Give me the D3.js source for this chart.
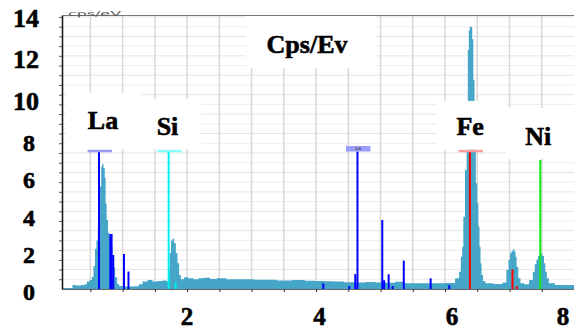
<!DOCTYPE html>
<html><head><meta charset="utf-8">
<script src="https://cdn.jsdelivr.net/npm/d3@7"></script>
<style>html,body{margin:0;padding:0;background:#fff;} svg{display:block;}</style>
</head><body><svg id="c" width="574" height="329"></svg>
<script>
// ---- data ----
const specEnergy = [0.06,0.215,0.23,0.324,0.40,0.432,0.463,0.51,0.536,0.561,0.583,0.605,0.626,0.641,0.66,0.676,0.691,0.716,0.731,0.742,0.762,0.784,0.804,0.831,0.855,0.871,0.897,0.933,0.959,1.114,1.234,1.27,1.347,1.425,1.502,1.58,1.657,1.699,1.719,1.74,1.762,1.786,1.812,1.839,1.863,1.89,1.916,1.993,2.045,2.149,2.2,2.304,2.41,2.51,2.712,2.975,3.1,3.285,3.5,3.75,3.9,4.06,4.2,4.37,4.5,4.68,4.85,4.99,5.15,5.3,5.45,5.611,5.75,5.921,6.107,6.205,6.232,6.258,6.274,6.294,6.325,6.345,6.361,6.376,6.392,6.414,6.429,6.449,6.465,6.491,6.507,6.527,6.543,6.558,6.574,6.605,6.647,6.853,6.93,6.972,6.997,7.018,7.043,7.069,7.085,7.1,7.12,7.151,7.188,7.266,7.343,7.379,7.405,7.43,7.456,7.48,7.498,7.524,7.545,7.565,7.592,7.627,7.782,8.0];
const specCounts = [0.05,0.05,0.2,0.18,0.2,0.25,0.38,0.46,0.62,1.18,2.06,2.5,3.2,3.9,5.27,6.3,6.43,6.23,5.7,4.4,3.55,2.9,2.7,2.18,1.6,1.1,0.6,0.26,0.15,0.13,0.14,0.24,0.38,0.46,0.38,0.41,0.44,0.4,1.0,1.85,2.49,2.59,2.35,1.85,1.32,0.72,0.5,0.6,0.55,0.5,0.55,0.58,0.52,0.55,0.5,0.5,0.47,0.48,0.44,0.46,0.42,0.41,0.4,0.38,0.35,0.34,0.36,0.34,0.32,0.37,0.3,0.29,0.3,0.29,0.31,0.55,0.89,1.66,2.18,3.72,6.12,8.6,12.3,13.3,13.5,13.5,12.85,10.75,7.2,5.44,4.41,3.21,2.18,1.32,0.72,0.41,0.29,0.26,0.33,0.98,1.5,1.84,1.96,2.04,1.92,1.66,1.15,0.55,0.29,0.24,0.46,0.89,1.27,1.5,1.7,1.78,1.81,1.7,1.32,0.89,0.55,0.29,0.2,0.2];

const markerEnergy  = [0.634,0.809,0.829,0.855,1.021,1.091, 1.714,1.823, 4.112,4.515,4.608,4.642,5.027,5.056,5.126,5.188,5.36,5.777,6.066, 6.386,7.046,7.111, 7.477];
const markerCounts  = [7.1,2.83,2.83,1.75,1.8,0.9, 7.1,0.36, 0.29,0.15,0.77,7.08,3.55,0.45,0.76,0.15,1.46,0.55,0.2, 7.1,1.01,0.15, 6.64];
const markerElement = ["La","La","La","La","La","La", "Si","Si", "La","La","La","La","La","La","La","La","La","La","La", "Fe","Fe","Fe", "Ni"];

const barElement = ["La","Si","La4","Fe"];
const barEnergy  = [0.634,1.714,4.642,6.386];

const yTickLabels = [0,2,4,6,8,10,12,14];
const xTickLabels = [2,4,6,8];
const elementLabels = ["La","Si","Fe","Ni"];
const titleText = "Cps/Ev";
const unitText = "cps/eV";

// ---- layout ----
const W = 574, H = 329;
const svg = d3.select("#c");
const x = d3.scaleLinear().domain([0.06, 8.0]).range([62, 574]);
const y = d3.scaleLinear().domain([0, 14.1]).range([289, 15]);
const serif = "'Liberation Serif','Times New Roman',Times,serif";

const colors = {La:"#0000ff", Si:"#00eeee", Fe:"#ff0000", Ni:"#11ee11"};
const barColors = {La:"#9a9af0", Si:"#88ffff", La4:"#9c9cff", Fe:"#ff9a9a"};

function boldText(sel, size) {
  return sel.attr("font-family", serif).attr("font-weight", 700)
    .attr("font-size", size).attr("fill", "#000")
    .attr("stroke", "#000").attr("stroke-width", 0.6).attr("paint-order", "stroke");
}

// gridlines
const g = svg.append("g");
g.selectAll(".hg").data(d3.range(0.5, 14.01, 0.5)).join("line")
  .attr("x1", x(0.06)).attr("x2", x(8.0))
  .attr("y1", d => y(d)).attr("y2", d => y(d))
  .attr("stroke", (d,i) => i % 2 ? "#e4e4e4" : "#ececec").attr("stroke-width", 1);
g.selectAll(".vg").data(d3.range(0.5, 7.51, 0.5)).join("line")
  .attr("x1", d => x(d)).attr("x2", d => x(d))
  .attr("y1", y(14.1)).attr("y2", y(0))
  .attr("stroke", "#d8d8d8").attr("stroke-width", 1.5);

// spectrum
const spec = specEnergy.map((e,i) => ({e, c: specCounts[i]}));
const area = d3.area().curve(d3.curveStep).x(d => x(d.e)).y0(y(0)).y1(d => y(d.c));
svg.append("path").datum(spec).attr("d", area).attr("fill", "#45a6c8");

// marker lines
const markers = markerEnergy.map((e,i) => ({e, c: markerCounts[i], el: markerElement[i]}));
svg.selectAll(".mk").data(markers).join("line")
  .attr("x1", d => x(d.e)).attr("x2", d => x(d.e))
  .attr("y1", y(0)).attr("y2", d => y(d.c))
  .attr("stroke", d => colors[d.el]).attr("stroke-width", 2);

// marker bars
const halfW = 0.19;
barElement.forEach((el, i) => {
  const cx = barEnergy[i] + 0.012;
  if (el === "La4") {
    svg.append("rect").attr("x", x(cx - halfW)).attr("width", x(cx + halfW) - x(cx - halfW))
      .attr("y", y(7.1) - 5).attr("height", 5.5).attr("fill", barColors[el]);
    svg.append("text").attr("x", x(cx)).attr("y", y(7.1) - 1).attr("text-anchor", "middle")
      .attr("font-family", "DejaVu Sans, sans-serif").attr("font-size", 5).attr("fill", "#333").text("La");
  } else {
    svg.append("line").attr("x1", x(cx - halfW)).attr("x2", x(cx + halfW))
      .attr("y1", y(7.1)).attr("y2", y(7.1))
      .attr("stroke", barColors[el]).attr("stroke-width", 2.5);
  }
});

// white annotation boxes (data-space extents)
const boxes = [
  {e0:0.122, e1:1.285, v0:7.2,  v1:10.09},
  {e0:1.285, e1:2.215, v0:7.2,  v1:9.78},
  {e0:2.913, e1:4.929, v0:11.37,v1:14.05},
  {e0:5.87,  e1:6.945, v0:7.17, v1:9.68},
  {e0:6.945, e1:8.0,   v0:6.7,  v1:9.32}
];
svg.selectAll(".bx").data(boxes).join("rect")
  .attr("x", d => x(d.e0)).attr("width", d => x(d.e1) - x(d.e0))
  .attr("y", d => y(d.v1)).attr("height", d => y(d.v0) - y(d.v1))
  .attr("fill", "#fff");

// element labels
const labelPos = {La:[0.696, 8.22], Si:[1.696, 7.93], Fe:[6.39, 7.93], Ni:[7.446, 7.41]};
elementLabels.forEach(t => {
  boldText(svg.append("text").attr("x", x(labelPos[t][0])).attr("y", y(labelPos[t][1]))
    .attr("text-anchor", "middle"), 26).text(t);
});
boldText(svg.append("text").attr("x", x(3.86)).attr("y", y(12.14))
  .attr("text-anchor", "middle"), 26).text(titleText);

// axes
const ax = svg.append("g").attr("transform", `translate(0,${y(0)})`)
  .call(d3.axisBottom(x).tickValues(d3.range(0.5, 8.01, 0.5)).tickSize(3).tickSizeOuter(0).tickFormat(""));
ax.select(".domain").attr("stroke", "#666").attr("stroke-width", 1.2);
ax.selectAll(".tick line").attr("stroke", "#333");
const ay = svg.append("g").attr("transform", `translate(${x(0.06)},0)`)
  .call(d3.axisLeft(y).tickValues(d3.range(0.5, 14.01, 0.5)).tickSize(3).tickSizeOuter(0).tickFormat(""));
ay.select(".domain").attr("stroke", "#111").attr("stroke-width", 1.5);
ay.selectAll(".tick line").attr("stroke", "#555");
svg.append("line").attr("x1", x(0.06)).attr("x2", x(8.0)).attr("y1", y(14.1) + 0.5).attr("y2", y(14.1) + 0.5)
  .attr("stroke", "#777").attr("stroke-width", 1);

// unit text
svg.append("text").attr("x", x(0.06) + 6).attr("y", y(14.1) + 0.5)
  .attr("font-family", "DejaVu Sans, sans-serif").attr("font-size", 7).attr("fill", "#555")
  .attr("textLength", 53).attr("lengthAdjust", "spacingAndGlyphs").text(unitText);

// overlaid tick labels
const yLab = d3.scaleLinear().domain([0, 8, 14]).range([300, 151, 27]);
svg.selectAll(".yl").data(yTickLabels).join("text")
  .attr("x", d => d >= 10 ? 26 : 29).attr("y", d => yLab(d))
  .attr("text-anchor", "middle")
  .call(s => boldText(s, 24))
  .attr("font-size", d => d >= 10 ? 26 : 24)
  .text(d => d);
const xLab = d3.scaleLinear().domain([2, 6]).range([187, 452]);
svg.selectAll(".xl").data(xTickLabels).join("text")
  .attr("x", d => Math.min(xLab(d), W - 11)).attr("y", 325)
  .attr("text-anchor", "middle")
  .call(s => boldText(s, 25))
  .text(d => d);
</script></body></html>
